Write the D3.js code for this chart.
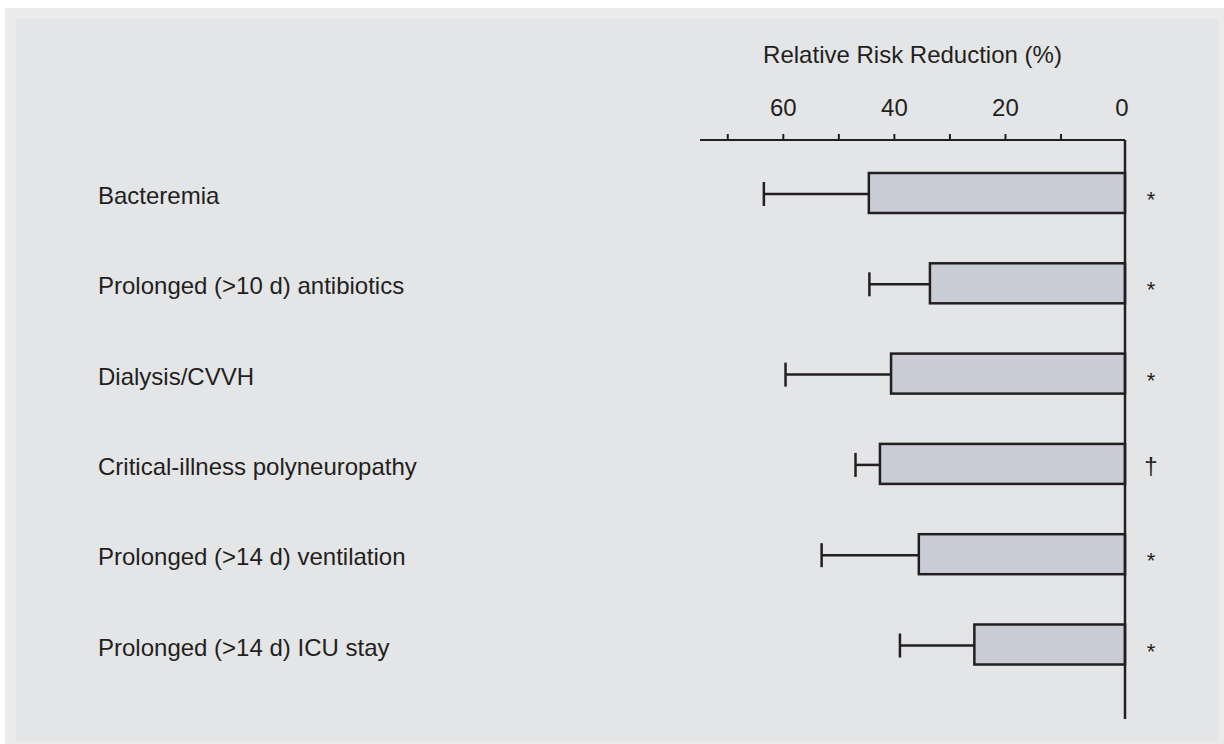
<!DOCTYPE html>
<html>
<head>
<meta charset="utf-8">
<script src="https://cdn.jsdelivr.net/npm/d3@7"></script>
<style>
  html, body { margin: 0; padding: 0; background: #ffffff; }
  svg { display: block; }
  text { font-family: "Liberation Sans", Arial, Helvetica, sans-serif; fill: #231f20; }
</style>
</head>
<body>
<script>
// ---- data ----
const categories = [
  "Bacteremia",
  "Prolonged (>10 d) antibiotics",
  "Dialysis/CVVH",
  "Critical-illness polyneuropathy",
  "Prolonged (>14 d) ventilation",
  "Prolonged (>14 d) ICU stay"
];
const reduction = [44.6, 33.6, 40.6, 42.6, 35.6, 25.6];
const upperError = [63.5, 44.5, 59.6, 47.0, 53.1, 39.0];
const markers = ["*", "*", "*", "\u2020", "*", "*"];
const tickLabels = [60, 40, 20, 0];
const tickMarks = [10, 20, 30, 40, 50, 60, 70];
const axisTitle = "Relative Risk Reduction (%)";

// ---- layout ----
const W = 1224, H = 744;
const ink = "#231f20";
const svg = d3.select("body").append("svg").attr("width", W).attr("height", H);

svg.append("rect").attr("x", 5).attr("y", 8).attr("width", W - 5).attr("height", H - 8).attr("fill", "#ebebeb");
svg.append("rect").attr("x", 16).attr("y", 19).attr("width", 1218 - 16).attr("height", 742 - 19).attr("fill", "#e4e5e7");

// reversed horizontal scale (0 at right), as drawn in the source figure
const x = d3.scaleLinear().domain([0, 10, 75]).range([1125, 1061, 700]);
const y = d3.scalePoint().domain(categories).range([193, 644.5]);
const axisY = 140;
const barH = 40;

// axis line
svg.append("line")
  .attr("x1", x(75)).attr("x2", x(0))
  .attr("y1", axisY).attr("y2", axisY)
  .attr("stroke", ink).attr("stroke-width", 2);

// tick marks (upwards)
svg.selectAll("line.tick").data(tickMarks).join("line")
  .attr("class", "tick")
  .attr("x1", d => x(d)).attr("x2", d => x(d))
  .attr("y1", axisY).attr("y2", axisY - 6)
  .attr("stroke", ink).attr("stroke-width", 2);

// tick labels
svg.selectAll("text.tl").data(tickLabels).join("text")
  .attr("class", "tl")
  .attr("x", d => x(d) - (d === 0 ? 3 : 0))
  .attr("y", 116)
  .attr("text-anchor", "middle")
  .attr("font-size", 24)
  .text(d => d);

// axis title
svg.append("text")
  .attr("x", (x(75) + x(0)) / 2)
  .attr("y", 63)
  .attr("text-anchor", "middle")
  .attr("font-size", 24)
  .text(axisTitle);

const rows = categories.map((c, i) => ({ c, v: reduction[i], e: upperError[i], m: markers[i] }));

// error whiskers
const g = svg.append("g");
g.selectAll("line.whisk").data(rows).join("line")
  .attr("class", "whisk")
  .attr("x1", d => x(d.e)).attr("x2", d => x(d.v))
  .attr("y1", d => y(d.c) + 1).attr("y2", d => y(d.c) + 1)
  .attr("stroke", ink).attr("stroke-width", 2.5);
g.selectAll("line.cap").data(rows).join("line")
  .attr("class", "cap")
  .attr("x1", d => x(d.e)).attr("x2", d => x(d.e))
  .attr("y1", d => y(d.c) + 1 - 12).attr("y2", d => y(d.c) + 1 + 12)
  .attr("stroke", ink).attr("stroke-width", 2.5);

// bars
g.selectAll("rect.bar").data(rows).join("rect")
  .attr("class", "bar")
  .attr("x", d => x(d.v))
  .attr("y", d => y(d.c) - barH / 2)
  .attr("width", d => x(0) - x(d.v))
  .attr("height", barH)
  .attr("fill", "#cacdd5")
  .attr("stroke", ink).attr("stroke-width", 2.5);

// zero line
svg.append("line")
  .attr("x1", x(0)).attr("x2", x(0))
  .attr("y1", axisY).attr("y2", 719)
  .attr("stroke", ink).attr("stroke-width", 2.5);

// category labels
svg.selectAll("text.cat").data(rows).join("text")
  .attr("class", "cat")
  .attr("x", 98)
  .attr("y", d => y(d.c) + 11)
  .attr("font-size", 24)
  .text(d => d.c);

// significance markers
svg.selectAll("text.mk").data(rows).join("text")
  .attr("class", "mk")
  .attr("x", x(0) + 26)
  .attr("y", d => y(d.c) + (d.m === "*" ? 14 : 10))
  .attr("text-anchor", "middle")
  .attr("font-size", d => d.m === "*" ? 22 : 24)
  .text(d => d.m);
</script>
</body>
</html>
